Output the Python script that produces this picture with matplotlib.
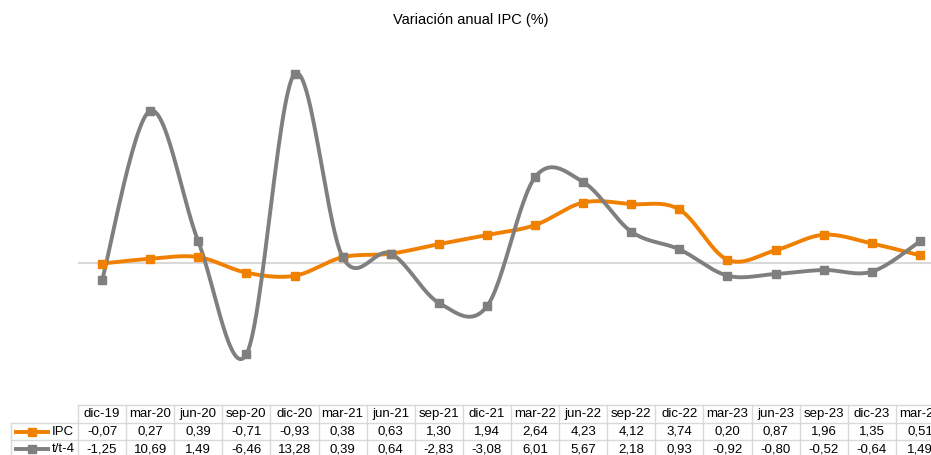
import numpy as np
import matplotlib
matplotlib.use("Agg")
import matplotlib.pyplot as plt
from matplotlib import transforms
from matplotlib.lines import Line2D

plt.rcParams['font.family'] = ['Liberation Sans', 'DejaVu Sans']

periods = ["dic-19", "mar-20", "jun-20", "sep-20", "dic-20", "mar-21", "jun-21", "sep-21", "dic-21",
           "mar-22", "jun-22", "sep-22", "dic-22", "mar-23", "jun-23", "sep-23", "dic-23", "mar-24"]
ipc = [-0.07, 0.27, 0.39, -0.71, -0.93, 0.38, 0.63, 1.30, 1.94,
       2.64, 4.23, 4.12, 3.74, 0.20, 0.87, 1.96, 1.35, 0.51]
tt4 = [-1.25, 10.69, 1.49, -6.46, 13.28, 0.39, 0.64, -2.83, -3.08,
       6.01, 5.67, 2.18, 0.93, -0.92, -0.80, -0.52, -0.64, 1.49]
series = [("IPC", ipc, "#F08000"), ("t/t-4", tt4, "#7F7F7F")]

W, H = 931, 455


def smooth(x, y, n=30):
    # excel-like smoothed line (catmull-rom bezier)
    p = np.column_stack([x, y]).astype(float)
    pts = []
    for i in range(len(p) - 1):
        p0 = p[max(i - 1, 0)]
        p1 = p[i]
        p2 = p[i + 1]
        p3 = p[min(i + 2, len(p) - 1)]
        c1 = p1 + (p2 - p0) / 6
        c2 = p2 - (p3 - p1) / 6
        t = np.linspace(0, 1, n)[:, None]
        seg = ((1 - t) ** 3) * p1 + 3 * ((1 - t) ** 2) * t * c1 + 3 * (1 - t) * t ** 2 * c2 + t ** 3 * p2
        pts.append(seg if i == 0 else seg[1:])
    pts = np.vstack(pts)
    return pts[:, 0], pts[:, 1]


fig = plt.figure(figsize=(W / 100, H / 100), dpi=100)
ax_left, ax_right = 78, 944
ax_top, ax_bot = 40, 405
ax = fig.add_axes([ax_left / W, 1 - ax_bot / H, (ax_right - ax_left) / W, (ax_bot - ax_top) / H])

x = np.arange(len(periods))
ax.axhline(0, color="#D9D9D9", lw=1.5, zorder=1)
for name, vals, col in series:
    sx, sy = smooth(x, vals)
    ax.plot(sx, sy, color=col, lw=2.8, zorder=3, solid_capstyle="round")
    ax.plot(x, vals, ls="none", marker="s", ms=6, color=col, zorder=4)

ax.set_xlim(-0.5, len(periods) - 0.5)
ax.set_ylim(-(ax_bot - 262.6) / 14.2, (262.6 - ax_top) / 14.2)
ax.axis("off")

fig.text(471 / W, 1 - 20 / H, "Variación anual IPC (%)", ha="center", va="center", fontsize=10.5)

# data table under the plot
tr = transforms.blended_transform_factory(ax.transData, fig.transFigure)
px = fig.transFigure


def fy(ypx):
    return 1 - ypx / H


grid = "#D9D9D9"
rows_y = [405, 423, 440, 458]
xl, xr = -0.5, len(periods) - 0.5
fig.add_artist(Line2D([xl, xr], [fy(rows_y[0])] * 2, transform=tr, color=grid, lw=1, clip_on=False))
for yy in rows_y[1:3]:
    fig.add_artist(Line2D([11 / W, ax_left / W], [fy(yy)] * 2, transform=px, color=grid, lw=1))
    fig.add_artist(Line2D([xl, xr], [fy(yy)] * 2, transform=tr, color=grid, lw=1))
fig.add_artist(Line2D([11 / W] * 2, [fy(423), fy(458)], transform=px, color=grid, lw=1))
for i in range(len(periods) + 1):
    fig.add_artist(Line2D([i - 0.5] * 2, [fy(405), fy(458)], transform=tr, color=grid, lw=1))

fs = 9.5
for i, p in enumerate(periods):
    fig.text(i, fy(414), p, transform=tr, ha="center", va="center", fontsize=fs)
for (name, vals, col), yc in zip(series, [432, 449]):
    for i, v in enumerate(vals):
        fig.text(i, fy(yc), f"{v:.2f}".replace(".", ","), transform=tr, ha="center", va="center", fontsize=fs)
    fig.add_artist(Line2D([14 / W, 50 / W], [fy(yc)] * 2, transform=px, color=col, lw=2.8,
                          solid_capstyle="butt"))
    fig.add_artist(Line2D([32 / W], [fy(yc)], transform=px, color=col, marker="s", ms=6, ls="none"))
    fig.text(52 / W, fy(yc), name, ha="left", va="center", fontsize=fs)

fig.savefig("out.png", dpi=100)
